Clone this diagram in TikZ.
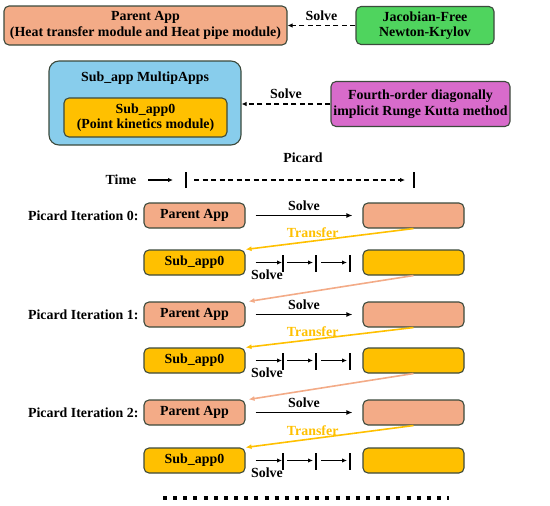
\documentclass[tikz,border=0pt]{standalone}
\usepackage{fontspec}
\setmainfont{Liberation Serif}
\usetikzlibrary{arrows.meta}
\definecolor{salmon}{HTML}{F3AB87}
\definecolor{jgreen}{HTML}{4FD45E}
\definecolor{skyb}{HTML}{88CDEC}
\definecolor{gold}{HTML}{FFC000}
\definecolor{orch}{HTML}{D86BCB}
\definecolor{bord}{HTML}{3C4A3C}
\begin{document}
\begin{tikzpicture}[x=1pt,y=-1pt,
  font=\bfseries\fontsize{13.9}{15.5}\selectfont,
  box/.style={draw=bord, line width=1.1pt, rounded corners=5pt, align=center, inner sep=0pt},
  rowbox/.style={box, minimum width=101pt, minimum height=25pt},
  pbox/.style={rowbox, fill=salmon},
  sbox/.style={rowbox, fill=gold},
  dasharrow/.style={line width=1.6pt, dash pattern=on 5pt off 3.5pt, -{Latex[length=5pt,width=4.5pt]}},
  solvearrow/.style={line width=1.7pt, -{Latex[length=6pt,width=5pt]}},
  tinyarrow/.style={line width=1.6pt, -{Latex[length=5pt,width=4.5pt]}},
  tick/.style={line width=1.9pt},
  transfer/.style={draw=gold, line width=1.6pt, -{Latex[length=6pt,width=5pt]}},
  back/.style={draw=salmon, line width=1.6pt, -{Latex[length=6pt,width=5pt]}},
  itlabel/.style={anchor=east},
]
\useasboundingbox (0,0) rectangle (550,506);

% top section
\node[box, fill=salmon, minimum width=283pt, minimum height=39pt] (parent) at (145.5,25.5)
  {Parent App\\(Heat transfer module and Heat pipe module)};
\node[box, fill=jgreen, minimum width=138pt, minimum height=38pt] (jfnk) at (425,25.5)
  {Jacobian-Free\\Newton-Krylov};
\draw[dasharrow] (jfnk.west) -- node[above=1pt] {Solve} (parent.east);

\node[box, fill=skyb, rounded corners=10pt, minimum width=192pt, minimum height=84pt] (multi) at (145,103) {};
\node (multitxt) at (145,78) {Sub\_app MultipApps};
\node[box, fill=gold, minimum width=163pt, minimum height=39pt] (sub0) at (145.5,117.5)
  {Sub\_app0\\(Point kinetics module)};
\node[box, fill=orch, minimum width=179pt, minimum height=45pt] (fourth) at (420.5,104)
  {Fourth-order diagonally\\implicit Runge Kutta method};
\draw[dasharrow] (fourth.west) -- node[above=1pt] {Solve} (multi.east |- fourth.west);

% time line
\node (picard) at (303,158) {Picard};
\node (time) at (121,180) {Time};
\coordinate (tA) at (186,180);
\coordinate (tB) at (414,180);
\draw[tinyarrow] ([xshift=-38pt]tA) -- ([xshift=-13pt]tA);
\draw[tick] ([yshift=-8pt]tA) -- ([yshift=8pt]tA);
\draw[tick] ([yshift=-8pt]tB) -- ([yshift=8pt]tB);
\draw[dasharrow] ([xshift=8pt]tA) -- ([xshift=-9pt]tB);

% iterations
\foreach \i/\py/\sy in {0/215.5/262.5, 1/314.5/360.5, 2/412.5/460.5}{
  \node[itlabel] (lab\i) at (142,\py) {Picard Iteration \i:};
  \node[pbox] (pa\i) at (194.5,\py) {Parent App};
  \node[pbox] (pr\i) at (413.5,\py) {};
  \draw[solvearrow, shorten <=10pt, shorten >=10pt] (pa\i.east) -- node[above=1pt] {Solve} (pr\i.west);
  \node[sbox] (sa\i) at (194.5,\sy) {Sub\_app0};
  \node[sbox] (sr\i) at (413.5,\sy) {};
  \draw[transfer] (pr\i.south) -- node[pos=0.6, above=-1pt, text=gold] {Transfer} (sa\i.north east);
  \coordinate (k1\i) at (283,\sy);
  \coordinate (k2\i) at (316,\sy);
  \coordinate (k3\i) at (350,\sy);
  \foreach \k in {1,2,3}{\draw[tick] ([yshift=-9pt]k\k\i) -- ([yshift=8pt]k\k\i);}
  \draw[tinyarrow] ([xshift=10pt]sa\i.east) -- ([xshift=-1pt]k1\i);
  \draw[tinyarrow] ([xshift=4pt]k1\i) -- ([xshift=-3pt]k2\i);
  \draw[tinyarrow] ([xshift=5pt]k2\i) -- ([xshift=-3pt]k3\i);
  \node (sv\i) at (267,\sy+12) {Solve};
}
\draw[back] (sr0.south) -- ([xshift=3pt]pa1.north east);
\draw[back] (sr1.south) -- ([xshift=3pt]pa2.north east);

% continuation
\coordinate (dl) at (163,498);
\coordinate (dr) at (449,498);
\draw[line width=4pt, dash pattern=on 4pt off 6.15pt] (dl) -- (dr);
\end{tikzpicture}
\end{document}
